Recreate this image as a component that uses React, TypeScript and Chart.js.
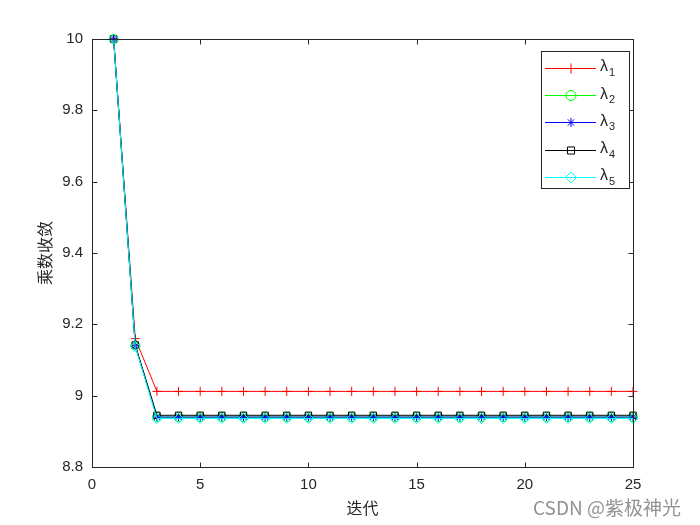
import React, { useEffect, useRef } from "react";
import { Chart, registerables } from "chart.js";
import { drawPoint } from "chart.js/helpers";

Chart.register(...registerables);

const iterations = Array.from({ length: 25 }, (_, i) => i + 1);
const lambda1 = [10, 9.16, 9.012, 9.012, 9.012, 9.012, 9.012, 9.012, 9.012, 9.012, 9.012, 9.012, 9.012, 9.012, 9.012, 9.012, 9.012, 9.012, 9.012, 9.012, 9.012, 9.012, 9.012, 9.012, 9.012];
const lambda2 = [10, 9.14, 8.94, 8.94, 8.94, 8.94, 8.94, 8.94, 8.94, 8.94, 8.94, 8.94, 8.94, 8.94, 8.94, 8.94, 8.94, 8.94, 8.94, 8.94, 8.94, 8.94, 8.94, 8.94, 8.94];
const lambda3 = [10, 9.14, 8.94, 8.94, 8.94, 8.94, 8.94, 8.94, 8.94, 8.94, 8.94, 8.94, 8.94, 8.94, 8.94, 8.94, 8.94, 8.94, 8.94, 8.94, 8.94, 8.94, 8.94, 8.94, 8.94];
const lambda4 = [10, 9.142, 8.945, 8.945, 8.945, 8.945, 8.945, 8.945, 8.945, 8.945, 8.945, 8.945, 8.945, 8.945, 8.945, 8.945, 8.945, 8.945, 8.945, 8.945, 8.945, 8.945, 8.945, 8.945, 8.945];
const lambda5 = [10, 9.138, 8.936, 8.936, 8.936, 8.936, 8.936, 8.936, 8.936, 8.936, 8.936, 8.936, 8.936, 8.936, 8.936, 8.936, 8.936, 8.936, 8.936, 8.936, 8.936, 8.936, 8.936, 8.936, 8.936];

const seriesNames = ["1", "2", "3", "4", "5"];
const seriesValues = [lambda1, lambda2, lambda3, lambda4, lambda5];
const seriesColors = ["#ff0000", "#00ff00", "#0000ff", "#000000", "#00ffff"];
const seriesMarkers = ["cross", "circle", "star", "rect", "rectRot"];
const seriesRadius = [4.5, 4.5, 4, 4.5, 5];

const xLabel = "迭代";
const yLabel = "乘数收敛";
const watermark = "CSDN @紫极神光";

const AXIS = "#262626";

const boxPlugin = {
  id: "matlabBox",
  afterDatasetsDraw(chart: any) {
    const { ctx, chartArea: a, scales } = chart;
    ctx.save();
    ctx.strokeStyle = AXIS;
    ctx.lineWidth = 1;
    ctx.beginPath();
    const L = Math.round(a.left) + 0.5, R = Math.round(a.right) + 0.5;
    const T = Math.round(a.top) + 0.5, B = Math.round(a.bottom) + 0.5;
    ctx.rect(L, T, R - L, B - T);
    const tl = 5;
    scales.x.ticks.forEach((t: any) => {
      const px = Math.round(scales.x.getPixelForValue(t.value)) + 0.5;
      ctx.moveTo(px, B); ctx.lineTo(px, B - tl);
      ctx.moveTo(px, T); ctx.lineTo(px, T + tl);
    });
    scales.y.ticks.forEach((t: any) => {
      const py = Math.round(scales.y.getPixelForValue(t.value)) + 0.5;
      ctx.moveTo(L, py); ctx.lineTo(L + tl, py);
      ctx.moveTo(R, py); ctx.lineTo(R - tl, py);
    });
    ctx.stroke();
    ctx.restore();
  },
  afterDraw(chart: any) {
    const { ctx } = chart;
    ctx.save();
    // legend box
    const bx = 541.5, by = 51.5, bw = 88, bh = 137;
    ctx.fillStyle = "#ffffff";
    ctx.fillRect(bx, by, bw, bh);
    ctx.strokeStyle = AXIS;
    ctx.lineWidth = 1;
    ctx.strokeRect(bx, by, bw, bh);
    chart.data.datasets.forEach((ds: any, i: number) => {
      const y = 68 + i * 27.2;
      ctx.strokeStyle = ds.borderColor;
      ctx.lineWidth = 1;
      ctx.beginPath();
      ctx.moveTo(545, Math.round(y) + 0.5);
      ctx.lineTo(596, Math.round(y) + 0.5);
      ctx.stroke();
      ctx.fillStyle = "rgba(0,0,0,0)";
      drawPoint(ctx, { pointStyle: ds.pointStyle, radius: ds.pointRadius + 0.5, borderWidth: 1, rotation: 0 }, 571, Math.round(y) + 0.5);
      ctx.fillStyle = AXIS;
      ctx.textBaseline = "middle";
      ctx.textAlign = "left";
      ctx.font = "16px 'Liberation Sans', Arial, sans-serif";
      ctx.fillText("λ", 600, y - 1);
      ctx.font = "11px 'Liberation Sans', Arial, sans-serif";
      ctx.fillText(seriesNames[i], 609, y + 5);
    });
    // watermark
    ctx.fillStyle = "rgba(110,110,110,0.75)";
    ctx.font = "19px 'Noto Sans CJK SC', 'Liberation Sans', sans-serif";
    ctx.textAlign = "left";
    ctx.textBaseline = "middle";
    ctx.fillText(watermark, 533, 508);
    ctx.restore();
  },
};

export default function App() {
  const ref = useRef<HTMLCanvasElement | null>(null);
  useEffect(() => {
    if (!ref.current) return;
    const chart = new Chart(ref.current, {
      type: "line",
      data: {
        labels: iterations,
        datasets: seriesValues.map((vals, i) => ({
          label: "λ" + seriesNames[i],
          data: vals.map((v, j) => ({ x: iterations[j], y: v })),
          borderColor: seriesColors[i],
          backgroundColor: "rgba(0,0,0,0)",
          pointBorderColor: seriesColors[i],
          pointBackgroundColor: "rgba(0,0,0,0)",
          pointStyle: seriesMarkers[i] as any,
          pointRadius: seriesRadius[i],
          pointBorderWidth: 1,
          borderWidth: 1,
          tension: 0,
          fill: false,
          clip: false as any,
          order: 4 - i,
        })),
      },
      options: {
        animation: false,
        responsive: true,
        maintainAspectRatio: false,
        layout: { padding: { left: 0, top: 39, right: 67, bottom: 0 } },
        plugins: { legend: { display: false }, tooltip: { enabled: false } },
        scales: {
          x: {
            type: "linear",
            min: 0,
            max: 25,
            afterFit: (s: any) => { s.height = 58; },
            grid: { display: false, drawTicks: false },
            border: { display: true, color: AXIS, width: 1 },
            ticks: {
              stepSize: 5,
              padding: 9,
              color: AXIS,
              font: { family: "'Liberation Sans', Arial, sans-serif", size: 15 },
              maxRotation: 0,
            },
            title: {
              display: true,
              text: xLabel,
              color: AXIS,
              font: { family: "'Noto Sans CJK SC', serif", size: 16 },
              padding: { top: 0, bottom: 7 },
            },
          },
          y: {
            type: "linear",
            min: 8.8,
            max: 10,
            afterFit: (s: any) => { s.width = 92; },
            grid: { display: false, drawTicks: false },
            border: { display: true, color: AXIS, width: 1 },
            ticks: {
              stepSize: 0.2,
              padding: 9,
              color: AXIS,
              font: { family: "'Liberation Sans', Arial, sans-serif", size: 15 },
              callback: (v: any) => String(Number(Number(v).toFixed(1))),
            },
            title: {
              display: true,
              text: yLabel,
              color: AXIS,
              font: { family: "'Noto Sans CJK SC', serif", size: 16 },
              padding: { top: 35, bottom: 0 },
            },
          },
        },
      },
      plugins: [boxPlugin],
    });
    return () => chart.destroy();
  }, []);
  return (
    <div style={{ position: "absolute", left: 0, top: 0, width: 700, height: 525, background: "#fff" }}>
      <canvas ref={ref} />
    </div>
  );
}
